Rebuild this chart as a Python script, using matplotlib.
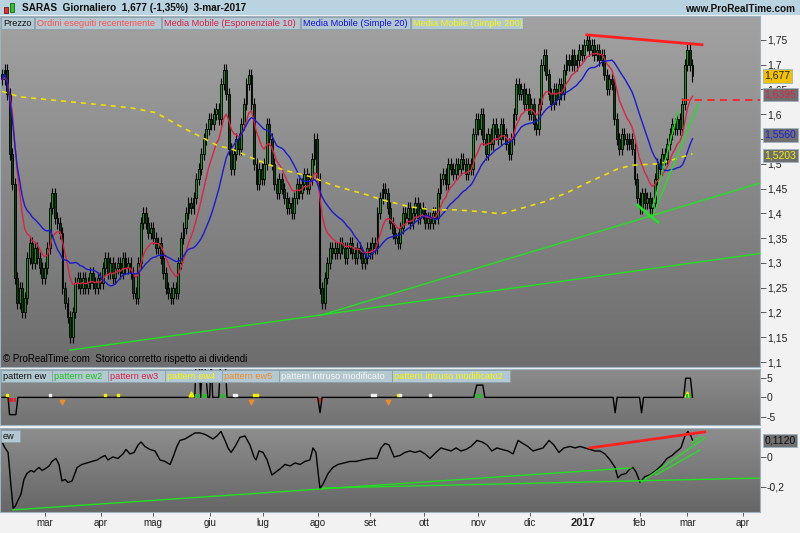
import numpy as np
import pandas as pd
import matplotlib
matplotlib.use('Agg')
import matplotlib.pyplot as plt
import matplotlib.transforms as mtransforms
from matplotlib.colors import LinearSegmentedColormap
from matplotlib.patches import Rectangle

plt.rcParams['font.family'] = ['Liberation Sans', 'DejaVu Sans']

# daily closes SARAS, 5-feb-2016 .. 3-mar-2017
closes = [
    1.67, 1.69, 1.64, 1.52, 1.46, 1.27, 1.22, 1.25, 1.20, 1.23,
    1.31, 1.34, 1.30, 1.33, 1.31, 1.29, 1.27, 1.29, 1.33, 1.41,
    1.44, 1.39, 1.38, 1.36, 1.25, 1.22, 1.19, 1.15, 1.20, 1.26,
    1.27, 1.25, 1.27, 1.25, 1.26, 1.28, 1.26, 1.25, 1.27, 1.26,
    1.29, 1.31, 1.28, 1.30, 1.27, 1.29, 1.30, 1.28, 1.31, 1.29,
    1.30, 1.28, 1.24, 1.23, 1.30, 1.38, 1.40, 1.38, 1.36, 1.37,
    1.35, 1.33, 1.34, 1.31, 1.28, 1.25, 1.24, 1.23, 1.25, 1.24,
    1.30, 1.35, 1.37, 1.40, 1.42, 1.41, 1.43, 1.47, 1.49, 1.52,
    1.55, 1.57, 1.59, 1.58, 1.60, 1.61, 1.59, 1.66, 1.69, 1.64,
    1.53, 1.49, 1.52, 1.55, 1.53, 1.58, 1.62, 1.66, 1.68, 1.62,
    1.50, 1.46, 1.49, 1.47, 1.50, 1.58, 1.55, 1.50, 1.46, 1.44,
    1.47, 1.45, 1.43, 1.41, 1.42, 1.40, 1.43, 1.46, 1.44, 1.46,
    1.48, 1.45, 1.47, 1.51, 1.55, 1.47, 1.25, 1.22, 1.27, 1.30,
    1.33, 1.32, 1.33, 1.32, 1.34, 1.33, 1.31, 1.33, 1.34, 1.32,
    1.31, 1.33, 1.32, 1.30, 1.31, 1.33, 1.32, 1.34, 1.33, 1.40,
    1.43, 1.45, 1.44, 1.41, 1.38, 1.36, 1.35, 1.34, 1.37, 1.40,
    1.39, 1.41, 1.38, 1.40, 1.42, 1.39, 1.41, 1.40, 1.38, 1.39,
    1.38, 1.40, 1.39, 1.44, 1.47, 1.48, 1.46, 1.50, 1.49, 1.48,
    1.50, 1.49, 1.51, 1.50, 1.48, 1.50, 1.49, 1.56, 1.59, 1.57,
    1.60, 1.55, 1.52, 1.56, 1.54, 1.58, 1.56, 1.55, 1.58, 1.56,
    1.54, 1.52, 1.55, 1.60, 1.66, 1.64, 1.65, 1.62, 1.64, 1.60,
    1.62, 1.58, 1.57, 1.62, 1.70, 1.72, 1.68, 1.64, 1.62, 1.65,
    1.63, 1.66, 1.64, 1.69, 1.71, 1.70, 1.72, 1.70, 1.71, 1.73,
    1.72, 1.74, 1.75, 1.73, 1.74, 1.72, 1.73, 1.71, 1.72, 1.68,
    1.65, 1.67, 1.66, 1.59, 1.55, 1.53, 1.56, 1.55, 1.54, 1.55,
    1.53, 1.47, 1.43, 1.41, 1.44, 1.42, 1.43, 1.41, 1.42, 1.47,
    1.50, 1.49, 1.52, 1.51, 1.54, 1.56, 1.58, 1.57, 1.59, 1.57,
    1.62, 1.70, 1.73, 1.70, 1.677,
]

sma200_idx = [0, 7, 19, 39, 51, 61, 72, 79, 85, 92, 98, 105, 112, 120, 123, 131,
              145, 151, 162, 171, 180, 191, 198, 204, 215, 224, 232, 239, 244, 250, 261, 274]
sma200_val = [1.646, 1.635, 1.629, 1.619, 1.613, 1.603, 1.572, 1.554, 1.538, 1.528, 1.514,
              1.500, 1.487, 1.477, 1.473, 1.457, 1.437, 1.427, 1.413, 1.407, 1.407, 1.403,
              1.399, 1.407, 1.423, 1.441, 1.461, 1.477, 1.489, 1.497, 1.500, 1.520]

# "ew" oscillator
ew_idx = [0, 1.2, 2.4, 3.6, 4.4, 5.2, 6.3, 7.5, 8.7, 9.9, 11.5, 12.7, 13.9, 14.7, 15.9, 17,
          18.7, 19.8, 21.4, 22.6, 23.8, 25, 26.2, 27.8, 29.8, 31.7, 33.7, 35.7, 37.7, 39.7,
          40.9, 42, 44, 46, 48, 49.2, 50.8, 52.4, 54, 55.2, 56.7, 58.7, 60.7, 62.7, 64.7,
          66.7, 67.9, 69.4, 70.6, 72.6, 74.6, 76.6, 78.6, 80.6, 81.7, 83.7, 85.3, 86.9,
          88.5, 89.7, 90.9, 92.5, 94.4, 96.4, 98.4, 100, 100.8, 102, 103.6, 105.2, 107.1,
          108.7, 110.3, 112.3, 114.3, 116.3, 118.3, 120.2, 122.2, 123.4, 124.6, 125.4,
          126.2, 127.4, 129.4, 131.3, 133.3, 135.7, 138.1, 140.5, 142.9, 146, 148.8,
          150.4, 152, 153.6, 155.6, 157.9, 159.9, 161.9, 163.9, 165.9, 167.9, 169.8,
          172.2, 174.2, 176.2, 178.2, 180.2, 182.1, 184.1, 186.1, 188.5, 190.5, 192.5,
          194.4, 196.4, 198.4, 200.8, 202.8, 204.8, 206.7, 208.7, 210.7, 212.7, 214.7,
          217.1, 219, 221, 223, 225.4, 227.4, 229.4, 231.3, 233.3, 235.3, 237.3, 239.3,
          241.3, 243.3, 244.4, 245.6, 247.6, 249.2, 250.4, 251.6, 253.2, 255.2, 257.1,
          259.5, 261.5, 263.9, 265.9, 267.9, 269.4, 271, 272.2, 273.4, 274]
ew_val = [0.10, 0.06, 0.03, -0.20, -0.34, -0.33, -0.29, -0.25, -0.15, -0.11, -0.09, -0.10,
          -0.08, -0.07, -0.09, -0.08, -0.06, -0.03, -0.01, -0.05, -0.16, -0.15, -0.17,
          -0.16, -0.07, -0.05, -0.04, -0.03, -0.02, 0.00, 0.01, -0.02, 0.00, -0.01, 0.02,
          0.05, 0.02, 0.03, 0.08, 0.10, 0.07, 0.05, 0.04, -0.02, -0.03, -0.05, 0.00, 0.07,
          0.11, 0.12, 0.14, 0.16, 0.16, 0.15, 0.14, 0.12, 0.14, 0.17, 0.11, 0.06, 0.03,
          0.07, 0.13, 0.14, 0.08, 0.00, -0.02, 0.04, 0.03, -0.02, -0.12, -0.10, -0.08,
          -0.05, -0.06, -0.04, -0.05, -0.03, -0.02, 0.06, 0.03, -0.10, -0.21, -0.18, -0.11,
          -0.07, -0.05, -0.04, -0.03, -0.03, -0.02, -0.01, -0.01, 0.06, 0.09, 0.08, 0.00,
          0.01, 0.03, 0.04, 0.03, 0.04, 0.02, -0.01, 0.03, 0.06, 0.05, 0.04, 0.06, 0.04,
          0.05, 0.07, 0.11, 0.10, 0.08, 0.04, 0.06, 0.05, 0.04, 0.02, 0.11, 0.09, 0.07,
          0.04, 0.05, 0.06, 0.11, 0.08, 0.03, 0.06, 0.07, 0.06, 0.07, 0.06, 0.05, 0.04,
          0.04, 0.02, -0.02, -0.07, -0.14, -0.12, -0.11, -0.08, -0.07, -0.10, -0.17, -0.13,
          -0.12, -0.09, -0.06, -0.01, 0.01, 0.04, 0.06, 0.14, 0.17, 0.14, 0.112]

# "pattern ew" signal line
pat_idx = [0, 2.4, 3, 5.5, 6.3, 76.5, 77, 78.2, 78.8, 79.6, 80.3, 81.7, 82.4, 83, 83.6,
           86, 86.8, 88.5, 89.3, 125.3, 126.2, 127, 187.2, 188.4, 190.8, 191.6, 242.5,
           243.3, 244.1, 253, 253.8, 254.6, 270.5, 271.3, 273.2, 274]
pat_val = [0, 0, -4.5, -4.5, 0, 0, 10, 10, 0, 10, 10, 0, 0, 10, 0, 0, 10, 10, 0, 0, -4,
           0, 0, 3.2, 3.2, 0, 0, -4, 0, 0, -4, 0, 0, 5, 5, 0]
pat_yellow_dots = [2, 41, 46, 100, 101, 157]
pat_white_dots = [19, 92, 93, 147, 148, 158, 170]
pat_orange_v = [24, 99, 153]
pat_yellow_up = [75, 272]
pat_green_bar = [77, 78, 80, 81, 87, 88, 188, 189, 190, 272, 273]
pat_red_bar = [3, 4, 5, 126]

# drawn objects: trend lines ((i0, p0), (i1, p1))
price_green = [((27.0, 1.124), (300.8, 1.319)), ((126.2, 1.194), (300.8, 1.461)),
               ((258.3, 1.413), (268.3, 1.605)), ((258.3, 1.396), (276.2, 1.619))]
price_green_thick = [((252.0, 1.417), (260.3, 1.382))]
price_red = [((232.1, 1.760), (277.8, 1.740))]
red_dash_start, red_dash_level = 269.8, 1.629
ew_green = [((4.4, -0.353), (249.6, -0.073)), ((127.4, -0.207), (302.4, -0.14)),
            ((253.6, -0.167), (279.0, 0.127)), ((259.5, -0.12), (277.0, 0.047)),
            ((273.8, 0.093), (277.0, 0.133))]
ew_red = [((233.3, 0.06), (278.9, 0.167))]

month_idx = [17, 39.3, 60, 82.5, 103.6, 125.4, 146, 167.5, 189, 209.5, 230.6, 253, 272, 294]
month_lbl = ['mar', 'apr', 'mag', 'giu', 'lug', 'ago', 'set', 'ott', 'nov', 'dic', '2017',
             'feb', 'mar', 'apr']
price_ticks = [1.1, 1.15, 1.2, 1.25, 1.3, 1.35, 1.4, 1.45, 1.5, 1.55, 1.6, 1.65, 1.7, 1.75]
hidden_ticks = [1.55]   # covered by the SMA20 value box in the original
last_lbl = [(1.677, '1,677'), (1.6395, '1,6395'), (1.558, '1,5560'), (1.517, '1,5203')]

W, H = 800, 533
fig = plt.figure(figsize=(W / 100, H / 100), dpi=100, facecolor='#f2f2f2')

def px_axes(x0, y0, x1, y1, **kw):
    return fig.add_axes([x0 / W, 1 - y1 / H, (x1 - x0) / W, (y1 - y0) / H], **kw)

def gradient(ax, top, bottom):
    cm = LinearSegmentedColormap.from_list('g', [bottom, top])
    ax.imshow(np.linspace(0, 1, 256).reshape(-1, 1)[::-1], cmap=cm, aspect='auto',
              extent=[0, 1, 0, 1], transform=ax.transAxes, zorder=0, vmin=0, vmax=1)

def frame(ax):
    for s in ax.spines.values():
        s.set_color('#9fb3bf')
        s.set_linewidth(0.8)

XL = (-0.8, 300.8)
fmt = lambda v: ('%g' % v).replace('.', ',')

# ---- price panel
df = pd.DataFrame({'c': closes})
df['o'] = df['c'].shift(1).fillna(df['c'].iloc[0] + 0.01)
df['ema10'] = df['c'].ewm(span=10, adjust=False).mean()
df['sma20'] = df['c'].rolling(20, min_periods=1).mean()
idx = np.arange(len(df))

ax = px_axes(0, 16, 760, 367)
gradient(ax, '#a2a2a2', '#6d6d6d')
top = df[['o', 'c']].max(axis=1)
bot = df[['o', 'c']].min(axis=1)
up = df['c'] >= df['o']
ax.vlines(idx, bot - 0.012, top + 0.012, color='black', lw=0.8, zorder=2)
ax.bar(idx, np.maximum(top - bot, 0.003), bottom=bot, width=0.75,
       color=np.where(up, '#1f8f1f', '#0d3d0d'), edgecolor='black', linewidth=0.6, zorder=3)
ax.plot(idx, df['ema10'], color='#dc2346', lw=1.0, zorder=4)
ax.plot(idx, df['sma20'], color='#1a1ad2', lw=1.0, zorder=4)
ax.plot(sma200_idx, sma200_val, color='#f0e000', lw=1.2, ls=(0, (3, 3)), zorder=4)
for (a, b) in price_green:
    ax.plot([a[0], b[0]], [a[1], b[1]], color='#22e022', lw=1.0, zorder=5)
for (a, b) in price_green_thick:
    ax.plot([a[0], b[0]], [a[1], b[1]], color='#22e022', lw=2.0, zorder=5)
for (a, b) in price_red:
    ax.plot([a[0], b[0]], [a[1], b[1]], color='#ff2020', lw=2.0, zorder=5)
ax.plot([red_dash_start, XL[1]], [red_dash_level] * 2, color='#ff2020', lw=1.3,
        ls=(0, (4, 3)), zorder=5)
ax.set_xlim(XL)
ax.set_ylim(1.09, 1.798)
ax.set_xticks([])
ax.yaxis.tick_right()
ax.set_yticks(price_ticks)
ax.set_yticklabels(['' if t in hidden_ticks else fmt(t) for t in price_ticks])
ax.tick_params(axis='y', length=4, width=0.6, color='#404040', labelsize=7.5,
               labelcolor='#202020', pad=1)
frame(ax)
ax.text(0.004, 0.008, '\u00a9 ProRealTime.com  Storico corretto rispetto ai dividendi',
        transform=ax.transAxes, fontsize=7, color='black', va='bottom', zorder=6)
bt = mtransforms.blended_transform_factory(ax.transAxes, ax.transData)
box_style = [('#202020', '#f2c200'), ('#e0204a', '#6f6f6f'), ('#2020e0', '#6f6f6f'),
             ('#f0f000', '#6f6f6f')]
for (v, s), (fc, bc) in zip(last_lbl, box_style):
    ax.text(1.006, v, s, transform=bt, fontsize=7.5, color=fc, va='center', ha='left',
            clip_on=False, zorder=7,
            bbox=dict(boxstyle='square,pad=0.15', fc=bc, ec='#9fb3bf', lw=0.6))

# ---- pattern ew panel
ax2 = px_axes(0, 369, 760, 425)
gradient(ax2, '#8c8c8c', '#727272')
ax2.plot(pat_idx, pat_val, color='black', lw=1.0, zorder=3)
ax2.scatter(pat_yellow_dots, [0.6] * len(pat_yellow_dots), s=3, color='#f0f000', marker='s', zorder=4)
ax2.scatter(pat_white_dots, [0.6] * len(pat_white_dots), s=3, color='#f0f0f0', marker='s', zorder=4)
ax2.scatter(pat_orange_v, [-1.2] * len(pat_orange_v), s=10, color='#f08c28', marker='v', zorder=4)
ax2.scatter(pat_yellow_up, [1.0] * len(pat_yellow_up), s=12, color='#f0f000', marker='^', zorder=4)
ax2.scatter(pat_green_bar, [0.4] * len(pat_green_bar), s=8, color='#22c022', marker='|', zorder=4)
ax2.scatter(pat_red_bar, [-0.8] * len(pat_red_bar), s=8, color='#e02030', marker='|', zorder=4)
ax2.set_xlim(XL)
ax2.set_ylim(-7.2, 7.4)
ax2.set_xticks([])
ax2.yaxis.tick_right()
ax2.set_yticks([5, 0, -5])
ax2.set_yticklabels(['5', '0', '-5'])
ax2.tick_params(axis='y', length=4, width=0.6, color='#404040', labelsize=7.5,
                labelcolor='#202020', pad=1)
frame(ax2)

# ---- ew panel
ax3 = px_axes(0, 428, 760, 512)
gradient(ax3, '#8e8e8e', '#666666')
ax3.plot(ew_idx, ew_val, color='black', lw=1.0, zorder=3)
for (a, b) in ew_green:
    ax3.plot([a[0], b[0]], [a[1], b[1]], color='#22e022', lw=1.0, zorder=4)
for (a, b) in ew_red:
    ax3.plot([a[0], b[0]], [a[1], b[1]], color='#ff2020', lw=2.0, zorder=4)
ax3.set_xlim(XL)
ax3.set_ylim(-0.367, 0.193)
ax3.yaxis.tick_right()
ax3.set_yticks([0, -0.2])
ax3.set_yticklabels(['0', '-0,2'])
ax3.tick_params(axis='y', length=4, width=0.6, color='#404040', labelsize=7.5,
                labelcolor='#202020', pad=1)
ax3.set_xticks(month_idx)
ax3.set_xticklabels(month_lbl)
ax3.tick_params(axis='x', length=3, width=0.6, color='#404040', labelsize=7,
                labelcolor='#202020', pad=1.5)
for lb in ax3.get_xticklabels():
    if lb.get_text() == '2017':
        lb.set_fontweight('bold')
        lb.set_fontsize(8)
frame(ax3)
bt3 = mtransforms.blended_transform_factory(ax3.transAxes, ax3.transData)
ax3.text(1.006, 0.112, '0,1120', transform=bt3, fontsize=7.5, color='#101010', va='center',
         ha='left', clip_on=False, zorder=7,
         bbox=dict(boxstyle='square,pad=0.15', fc='#6f6f6f', ec='#9fb3bf', lw=0.6))

# ---- overlay: header bar and legend tabs (pixel coordinates)
ov = fig.add_axes([0, 0, 1, 1], facecolor='none', zorder=10)
ov.set_xlim(0, W)
ov.set_ylim(H, 0)
ov.axis('off')
ov.add_patch(Rectangle((0, 0), W, 15, facecolor='#b9d3e0', edgecolor='none'))
ov.add_patch(Rectangle((4, 7), 4, 6, facecolor='#e03030', edgecolor='#600000', lw=0.5))
ov.add_patch(Rectangle((10, 3), 4, 9, facecolor='#30c030', edgecolor='#005000', lw=0.5))
ov.text(22, 8, 'SARAS  Giornaliero  1,677 (-1,35%)  3-mar-2017', fontsize=7.2,
        fontweight='bold', va='center', ha='left', color='#101010')
ov.text(795, 9, 'www.ProRealTime.com', fontsize=7.2, fontweight='bold', va='center',
        ha='right', color='#101010')

def tab(x0, x1, y0, y1, text, color):
    ov.add_patch(Rectangle((x0, y0), x1 - x0, y1 - y0, facecolor='#b4c8d2',
                           edgecolor='#8aa2ae', lw=0.6))
    ov.text(x0 + 2, (y0 + y1) / 2 + 0.5, text, fontsize=6.6, color=color, va='center', ha='left')

main_tabs = [(1, 34, 'Prezzo', '#101010'), (35, 161, 'Ordini eseguiti recentemente', '#ff5050'),
             (162, 300, 'Media Mobile (Esponenziale 10)', '#dc1e46'),
             (301, 410, 'Media Mobile (Simple 20)', '#1010e0'),
             (411, 523, 'Media Mobile (Simple 200)', '#f8f800')]
for x0, x1, t, c in main_tabs:
    tab(x0, x1, 17, 29, t, c)
pat_tabs = [(1, 52, 'pattern ew', '#101010'), (52, 108, 'pattern ew2', '#20c020'),
            (108, 165, 'pattern ew3', '#e0204a'), (165, 222, 'pattern ew4', '#f8f800'),
            (222, 279, 'pattern ew5', '#f08c28'), (279, 392, 'pattern intruso modificato', '#f4f4f4'),
            (392, 510, 'pattern intruso modificato2', '#f8f800')]
for x0, x1, t, c in pat_tabs:
    tab(x0, x1, 370, 382, t, c)
tab(1, 20, 430, 442, 'ew', '#101010')

fig.savefig('out.png', dpi=100, facecolor=fig.get_facecolor())
